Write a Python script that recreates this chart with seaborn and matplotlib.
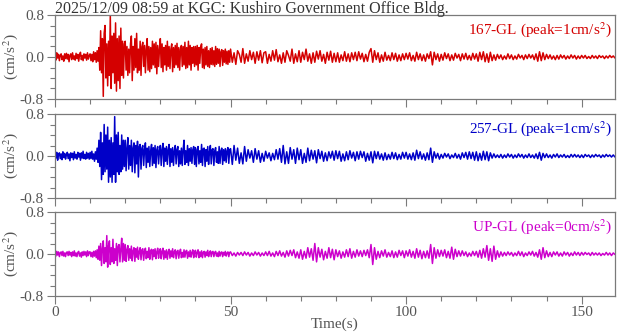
import numpy as np
import pandas as pd
import matplotlib
matplotlib.use("Agg")
import matplotlib.pyplot as plt
from matplotlib.ticker import MultipleLocator
import seaborn as sns

# ---- data (cm/s^2) ----
# 0-50 s sampled every 0.25 s, 50-160 s sampled every 0.5 s
dt_fine, dt_coarse, t_split = 0.25, 0.5, 50.0

ns_fine = [
    0.04,-0.06,0.08,-0.02,0.05,-0.07,0.03,0.06,-0.05,0.02,-0.08,0.06,-0.03,0.07,-0.04,0.05,-0.09,0.03,0.06,-0.05,
    0.08,-0.04,0.02,-0.06,0.07,-0.03,0.05,-0.08,0.04,0.09,-0.05,0.03,-0.07,0.06,-0.02,0.05,-0.06,0.08,-0.04,0.03,
    0.06,-0.07,0.05,-0.09,0.10,-0.05,0.08,-0.10,0.12,-0.08,
    0.18,-0.25,0.50,-0.30,0.35,-0.75,0.45,0.60,-0.40,0.25,
    -0.55,0.30,-0.35,0.80,-0.60,0.40,-0.30,0.45,-0.50,0.65,
    -0.65,0.35,-0.45,0.40,-0.60,0.55,-0.35,0.30,-0.40,0.25,
    0.30,-0.25,0.20,-0.35,0.15,-0.30,0.25,0.40,-0.45,0.20,-0.25,0.35,-0.20,0.45,-0.30,0.15,-0.25,0.30,-0.35,0.20,
    0.28,-0.18,0.22,-0.30,0.15,0.35,-0.25,0.20,-0.28,0.18,-0.22,0.30,-0.15,0.25,-0.20,0.28,-0.32,0.22,-0.18,0.15,
    0.35,-0.20,0.25,-0.28,0.18,-0.15,0.22,-0.25,0.30,-0.18,0.20,-0.22,0.15,0.25,-0.28,0.18,-0.20,0.22,-0.15,0.26,
    -0.20,0.18,-0.25,0.15,0.22,-0.18,0.20,-0.15,0.28,-0.22,0.18,-0.20,0.30,-0.15,0.22,-0.25,0.18,-0.12,0.20,-0.18,
    0.20,-0.15,0.22,-0.25,0.18,-0.12,0.20,0.25,-0.20,0.15,-0.22,0.18,-0.15,0.20,-0.18,0.12,-0.20,0.16,-0.14,0.18,
    -0.15,0.12,-0.18,0.20,-0.14,0.16,-0.12,0.15,-0.18,0.10,0.14,-0.16,0.12,-0.10,0.15,-0.13,0.11,-0.14,0.12,-0.10,
]
ns_coarse = [
    0.15,-0.10,0.08,-0.14,0.12,0.05,-0.10,0.16,-0.12,0.06,-0.08,0.12,-0.05,0.09,-0.12,0.10,-0.06,0.12,-0.11,0.08,
    0.10,-0.12,0.05,-0.08,0.12,-0.06,0.14,-0.09,0.04,-0.12,0.08,-0.10,0.12,0.03,-0.08,0.15,-0.12,0.06,-0.09,0.12,
    -0.10,0.09,-0.05,0.15,-0.08,0.06,-0.12,0.08,-0.10,0.11,-0.04,0.12,-0.08,0.05,-0.12,0.09,-0.06,0.11,-0.10,0.07,
    -0.09,0.08,-0.10,0.04,-0.07,0.10,-0.08,0.06,-0.09,0.08,-0.05,0.09,-0.07,0.10,-0.04,0.07,-0.09,0.05,-0.08,0.09,
    0.16,-0.10,0.12,-0.05,0.08,-0.10,0.04,-0.08,0.09,-0.06,0.03,-0.07,0.08,-0.05,0.07,-0.08,0.04,-0.07,0.06,-0.05,
    0.07,-0.04,0.08,-0.07,0.03,-0.08,0.09,-0.05,0.06,-0.07,0.04,-0.08,0.06,-0.03,0.10,-0.15,0.09,-0.05,0.06,-0.08,
    0.05,-0.06,0.08,-0.03,0.06,-0.07,0.04,-0.06,0.07,-0.02,0.05,-0.07,0.06,-0.04,0.07,-0.05,0.03,-0.06,0.07,-0.04,
    0.06,-0.08,0.09,-0.05,0.10,-0.09,0.06,-0.10,0.09,-0.07,0.04,-0.06,0.05,-0.03,0.04,-0.05,0.02,-0.04,0.06,-0.03,
    0.04,-0.05,0.02,-0.04,0.05,-0.02,0.03,-0.05,0.04,-0.03,0.05,-0.02,0.04,-0.05,0.06,-0.08,0.10,-0.07,0.08,-0.05,
    0.05,-0.03,0.04,-0.04,0.02,-0.05,0.03,-0.04,0.04,-0.02,0.03,-0.04,0.02,-0.03,0.04,-0.02,0.03,-0.04,0.02,-0.03,
    0.03,-0.02,0.03,-0.03,0.01,-0.03,0.03,-0.02,0.02,-0.03,0.03,-0.01,0.02,-0.03,0.02,-0.02,0.03,-0.01,0.02,-0.02,
]

ew_fine = [
    0.05,-0.04,0.07,-0.08,0.03,0.06,-0.05,0.04,-0.07,0.08,-0.03,0.05,-0.06,0.02,0.07,-0.05,0.04,-0.09,0.06,-0.03,
    0.05,-0.07,0.08,-0.04,0.03,-0.06,0.07,-0.02,0.05,-0.08,0.06,-0.04,0.09,-0.05,0.03,-0.06,0.07,-0.04,0.05,-0.06,
    0.07,-0.05,0.09,-0.06,0.04,-0.10,0.08,-0.06,0.15,-0.12,
    0.30,-0.20,0.45,-0.45,0.25,-0.35,0.60,-0.30,0.40,-0.25,
    0.55,-0.50,0.30,-0.40,0.35,-0.50,0.25,-0.35,0.75,-0.50,
    0.40,-0.30,0.45,-0.35,0.20,-0.30,0.40,-0.25,0.30,-0.20,
    0.30,-0.28,0.15,0.35,-0.25,0.20,-0.18,0.30,-0.30,0.15,0.25,-0.32,0.20,-0.15,0.28,-0.40,0.18,0.22,-0.25,0.15,
    0.20,-0.18,0.12,0.25,-0.22,0.15,-0.12,0.18,-0.20,0.10,0.22,-0.18,0.16,-0.14,0.20,-0.22,0.12,0.18,-0.15,0.10,
    0.20,-0.18,0.12,0.24,-0.20,0.15,-0.10,0.18,-0.16,0.12,0.22,-0.20,0.14,-0.12,0.16,-0.18,0.10,0.20,-0.15,0.12,
    0.18,-0.20,0.10,-0.15,0.15,-0.18,0.12,0.30,-0.16,0.10,-0.12,0.20,-0.18,0.14,-0.10,0.16,-0.14,0.12,0.18,-0.16,
    0.16,-0.20,0.12,0.18,-0.15,0.10,-0.12,0.22,-0.18,0.14,0.15,-0.20,0.12,-0.10,0.18,-0.16,0.08,0.20,-0.15,0.12,
    0.14,-0.18,0.10,0.16,-0.12,0.08,-0.14,0.18,-0.14,0.10,0.15,-0.16,0.12,-0.09,0.14,-0.12,0.10,0.16,-0.14,0.12,
]
ew_coarse = [
    0.14,-0.16,0.20,-0.08,0.15,-0.14,0.06,-0.15,0.18,-0.10,0.12,-0.04,0.10,-0.12,0.14,-0.06,0.10,-0.12,0.05,-0.10,
    0.09,-0.04,0.06,-0.09,0.05,-0.07,0.12,-0.06,0.14,-0.12,0.20,-0.15,0.08,-0.14,0.16,-0.06,0.12,-0.14,0.15,-0.07,
    0.12,-0.14,0.05,-0.12,0.15,-0.09,0.11,-0.06,0.10,-0.13,0.12,-0.05,0.09,-0.10,0.06,-0.09,0.08,-0.04,0.09,-0.08,
    0.10,-0.05,0.09,-0.10,0.04,-0.09,0.08,-0.07,0.10,-0.04,0.07,-0.09,0.08,-0.06,0.09,-0.03,0.08,-0.10,0.05,-0.08,
    0.08,-0.13,0.09,-0.05,0.08,-0.06,0.04,-0.08,0.06,-0.07,0.03,-0.06,0.07,-0.05,0.06,-0.07,0.03,-0.06,0.07,-0.04,
    0.07,-0.06,0.04,-0.07,0.06,-0.08,0.11,-0.05,0.08,-0.06,0.04,-0.08,0.06,-0.07,0.15,-0.12,0.08,-0.04,0.05,-0.06,
    0.03,-0.04,0.05,-0.02,0.04,-0.05,0.02,-0.03,0.05,-0.04,0.03,-0.06,0.06,-0.03,0.07,-0.06,0.08,-0.05,0.07,-0.08,
    0.08,-0.09,0.05,-0.08,0.09,-0.07,0.08,-0.09,0.06,-0.04,0.04,-0.03,0.02,-0.03,0.03,-0.04,0.02,-0.03,0.04,-0.02,
    0.03,-0.04,0.02,-0.03,0.04,-0.02,0.03,-0.04,0.02,-0.03,0.04,-0.03,0.02,-0.04,0.04,-0.05,0.07,-0.08,0.05,-0.03,
    0.04,-0.03,0.02,-0.04,0.03,-0.02,0.04,-0.03,0.02,-0.02,0.03,-0.03,0.01,-0.03,0.03,-0.02,0.03,-0.02,0.02,-0.03,
    0.02,-0.03,0.03,-0.01,0.02,-0.03,0.02,-0.02,0.03,-0.01,0.02,-0.03,0.02,-0.02,0.03,-0.01,0.02,-0.02,0.02,-0.02,
]

ud_fine = [
    0.03,-0.04,0.05,-0.02,0.04,-0.05,0.02,0.04,-0.03,0.05,-0.04,0.02,-0.05,0.03,0.04,-0.03,0.05,-0.02,0.03,-0.05,
    0.04,-0.03,0.06,-0.04,0.02,-0.05,0.03,0.05,-0.04,0.02,-0.06,0.04,-0.03,0.05,-0.02,0.04,-0.05,0.06,-0.03,0.04,
    0.04,-0.05,0.03,-0.06,0.05,-0.04,0.06,-0.07,0.08,-0.10,
    0.15,-0.12,0.20,-0.22,0.10,0.25,-0.18,0.12,-0.15,0.35,
    -0.25,0.15,0.25,-0.20,0.12,-0.15,0.28,-0.18,0.10,-0.12,
    0.20,-0.22,0.15,0.18,-0.15,0.10,0.30,-0.15,0.20,-0.12,
    0.18,-0.14,0.08,0.16,-0.12,0.10,-0.08,0.15,-0.13,0.06,0.12,-0.14,0.10,-0.06,0.13,-0.10,0.05,0.12,-0.11,0.08,
    0.10,-0.12,0.06,0.11,-0.09,0.05,-0.07,0.12,-0.10,0.06,0.09,-0.11,0.08,-0.05,0.10,-0.09,0.04,0.11,-0.08,0.06,
    0.10,-0.09,0.05,0.11,-0.10,0.06,-0.07,0.08,-0.10,0.04,0.09,-0.08,0.06,-0.05,0.10,-0.07,0.04,0.08,-0.09,0.05,
    0.07,-0.08,0.04,0.09,-0.07,0.03,-0.06,0.08,-0.06,0.05,0.07,-0.08,0.04,-0.05,0.07,-0.06,0.03,0.08,-0.07,0.04,
    0.07,-0.06,0.03,0.08,-0.07,0.04,-0.05,0.06,-0.07,0.03,0.05,-0.06,0.04,-0.03,0.07,-0.05,0.02,0.06,-0.05,0.04,
    0.05,-0.05,0.03,0.05,-0.04,0.02,-0.05,0.05,-0.04,0.03,0.04,-0.05,0.03,-0.02,0.05,-0.04,0.02,0.04,-0.05,0.03,
]
ud_coarse = [
    0.04,-0.03,0.02,-0.04,0.03,-0.02,0.03,-0.03,0.04,-0.02,0.03,-0.04,0.02,-0.03,0.04,-0.02,0.03,-0.04,0.02,-0.03,
    0.04,-0.03,0.05,-0.04,0.02,-0.05,0.05,-0.03,0.06,-0.04,0.03,-0.06,0.06,-0.04,0.07,-0.03,0.08,-0.07,0.04,-0.08,
    0.08,-0.10,0.05,-0.08,0.12,-0.06,0.10,-0.12,0.20,-0.15,0.12,-0.06,0.09,-0.11,0.05,-0.08,0.12,-0.07,0.09,-0.11,
    0.08,-0.05,0.06,-0.08,0.04,-0.06,0.08,-0.05,0.10,-0.08,0.05,-0.06,0.08,-0.04,0.06,-0.05,0.07,-0.03,0.08,-0.07,
    0.18,-0.20,0.12,-0.10,0.05,-0.07,0.06,-0.04,0.08,-0.06,0.03,-0.05,0.06,-0.07,0.04,-0.06,0.07,-0.03,0.06,-0.07,
    0.06,-0.04,0.08,-0.06,0.05,-0.08,0.10,-0.06,0.07,-0.09,0.05,-0.07,0.06,-0.08,0.18,-0.18,0.12,-0.08,0.08,-0.05,
    0.07,-0.04,0.08,-0.07,0.05,-0.08,0.13,-0.10,0.09,-0.05,0.06,-0.04,0.06,-0.03,0.04,-0.05,0.02,-0.04,0.05,-0.03,
    0.05,-0.06,0.07,-0.08,0.10,-0.06,0.16,-0.12,0.10,-0.14,0.15,-0.10,0.06,-0.06,0.04,-0.04,0.03,-0.03,0.04,-0.02,
    0.03,-0.04,0.02,-0.03,0.05,-0.03,0.04,-0.05,0.02,-0.03,0.04,-0.02,0.05,-0.04,0.03,-0.06,0.08,-0.10,0.12,-0.07,
    0.06,-0.05,0.03,-0.05,0.04,-0.02,0.04,-0.04,0.02,-0.04,0.04,-0.02,0.03,-0.04,0.02,-0.03,0.04,-0.02,0.03,-0.03,
    0.03,-0.02,0.03,-0.01,0.02,-0.03,0.03,-0.02,0.02,-0.02,0.02,-0.03,0.01,-0.02,0.03,-0.02,0.02,-0.03,0.02,-0.01,
]

labels = ["167-GL (peak=1cm/s$^2$)", "257-GL (peak=1cm/s$^2$)", "UP-GL (peak=0cm/s$^2$)"]
colors = ["#d40000", "#0000c8", "#cc00cc"]
series = [(ns_fine, ns_coarse), (ew_fine, ew_coarse), (ud_fine, ud_coarse)]
title = "2025/12/09 08:59 at KGC: Kushiro Government Office Bldg."
yticks = [-0.8, 0.0, 0.8]
ytick_labels = ["-0.8", "0.0", "0.8"]
xticks = [0, 50, 100, 150]

sns.set_style("ticks")
plt.rcParams["font.family"] = ["Liberation Serif", "DejaVu Serif"]
plt.rcParams["mathtext.fontset"] = "stix"

W, H = 618, 334
fig = plt.figure(figsize=(W / 100, H / 100), dpi=100)
gray = "#7a7a7a"
txtgray = "#555555"
panel_tops = [15, 114, 212]
panel_h = 84
left, right = 55, 615
fs = 11

for i, ((fine, coarse), col, lab) in enumerate(zip(series, colors, labels)):
    top = panel_tops[i]
    ax = fig.add_axes([left / W, 1 - (top + panel_h) / H, (right - left) / W, panel_h / H])
    t = np.concatenate([np.arange(len(fine)) * dt_fine,
                        t_split + np.arange(len(coarse)) * dt_coarse])
    df = pd.DataFrame({"t": t, "a": list(fine) + list(coarse)})
    sns.lineplot(data=df, x="t", y="a", ax=ax, color=col, linewidth=1.1)
    ax.set_xlim(0, 159.5)
    ax.set_ylim(-0.8, 0.8)
    ax.set_yticks(yticks)
    ax.set_yticklabels(ytick_labels)
    ax.yaxis.set_minor_locator(MultipleLocator(0.2))
    ax.set_xticks(xticks)
    ax.xaxis.set_minor_locator(MultipleLocator(10))
    ax.tick_params(which="major", length=6, width=0.8, color=gray, labelcolor=txtgray,
                   labelsize=fs, direction="out", pad=2)
    ax.tick_params(axis="x", which="major", pad=1)
    ax.tick_params(which="minor", length=3.5, width=0.8, color=gray, direction="out")
    ax.tick_params(axis="x", which="both", top=False)
    for s in ax.spines.values():
        s.set_color(gray)
        s.set_linewidth(0.9)
    ax.set_ylabel("(cm/s$^2$)", color=txtgray, fontsize=fs)
    ax.yaxis.set_label_coords(-0.062, 0.5)
    if i < 2:
        ax.set_xticklabels([])
        ax.set_xlabel("")
    else:
        ax.set_xlabel("Time(s)", color=txtgray, fontsize=fs)
        ax.xaxis.set_label_coords(0.5, -0.26)
        ax.xaxis.label.set_va("top")
    ax.text(0.995, 0.94, lab, transform=ax.transAxes, ha="right", va="top", color=col, fontsize=fs)

fig.text(left / W, 0.998, title, ha="left", va="top", color="#333333", fontsize=11.5)
fig.savefig("out.png", dpi=100)
